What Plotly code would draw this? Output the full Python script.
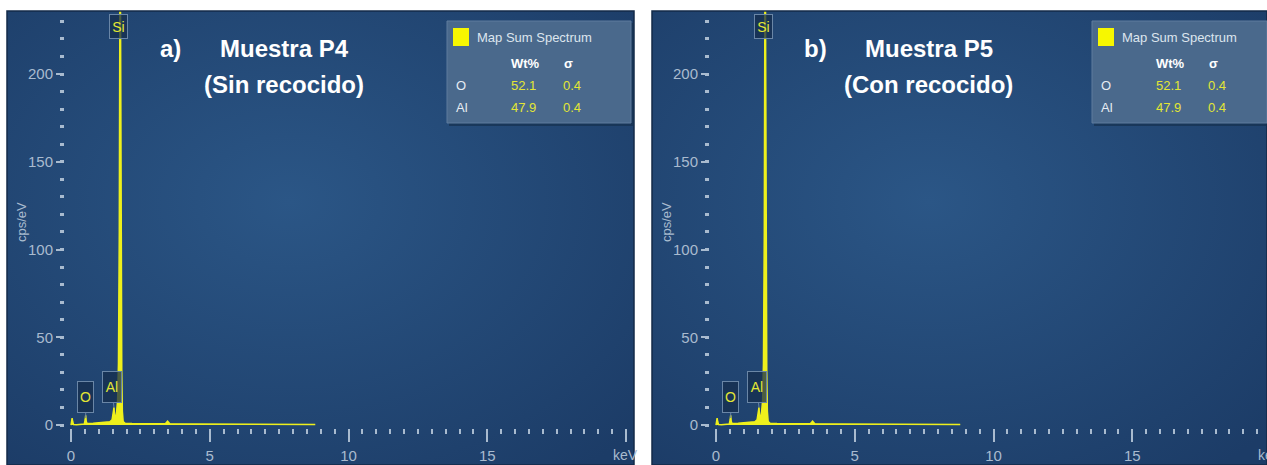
import base64
import plotly.graph_objects as go

W, H = 1267, 465

# ---------------- data ----------------
energy_kev = [0.00, 0.02, 0.04, 0.06, 0.09, 0.20, 0.35, 0.48, 0.51, 0.53, 0.55, 0.58,
              0.80, 1.00, 1.20, 1.40, 1.48, 1.52, 1.55, 1.57, 1.60, 1.64, 1.68, 1.71,
              1.74, 1.77, 1.80, 1.83, 1.85, 1.88, 1.95, 2.20, 3.00, 3.40, 3.48, 3.56,
              4.50, 6.00, 7.50, 8.80]
counts_p4 = [0.0, 2.0, 4.0, 2.0, 0.3, 0.2, 0.3, 0.6, 3.0, 5.5, 2.0, 0.8,
             1.0, 1.2, 1.3, 1.8, 3.0, 7.0, 10.0, 5.0, 4.0, 7.0, 14.0, 35.0,
             110.0, 300.0, 110.0, 30.0, 8.0, 2.0, 1.0, 0.8, 0.7, 0.7, 2.2, 0.7,
             0.6, 0.5, 0.4, 0.3]
counts_p5 = [0.0, 2.0, 4.0, 2.0, 0.3, 0.2, 0.3, 0.6, 3.0, 5.5, 2.0, 0.8,
             1.0, 1.2, 1.3, 1.8, 3.0, 7.0, 10.0, 5.0, 4.0, 7.0, 14.0, 35.0,
             110.0, 300.0, 110.0, 30.0, 8.0, 2.0, 1.0, 0.8, 0.7, 0.7, 2.2, 0.7,
             0.6, 0.5, 0.4, 0.3]

peak_names = ["O", "Al", "Si"]
peak_energy = [0.53, 1.55, 1.77]
peak_height = [4.0, 10.0, 227.0]

table_elements = ["O", "Al"]
table_wt = ["52.1", "47.9"]
table_sigma = ["0.4", "0.4"]

x_major_ticks = [0, 5, 10, 15, 20]
x_major_text = ["0", "5", "10", "15", ""]
y_major_ticks = [0, 50, 100, 150, 200]
y_major_text = ["0", "50", "100", "150", "200"]

panel_tags = ["a)", "b)"]
panel_title1 = ["Muestra P4", "Muestra P5"]
panel_title2 = ["(Sin recocido)", "(Con recocido)"]
panel_counts = [counts_p4, counts_p5]

# ---------------- styling ----------------
FONT = "Liberation Sans, Arial, sans-serif"
YEL = "#eef01c"
TXT_YEL = "#e3e634"
AX = "#a9bbcf"
KEV_PX = 27.75


def px(x):
    return x / W


def py(y):
    return 1 - y / H


def grad_uri():
    svg = ("<svg xmlns='http://www.w3.org/2000/svg' width='100' height='100' "
           "viewBox='0 0 100 100' preserveAspectRatio='none'><defs>"
           "<radialGradient id='g' cx='45%' cy='42%' r='75%'>"
           "<stop offset='0%' stop-color='#2b5686'/>"
           "<stop offset='100%' stop-color='#1c3c67'/></radialGradient></defs>"
           "<rect x='0' y='0' width='100' height='100' fill='url(#g)'/></svg>")
    return "data:image/svg+xml;base64," + base64.b64encode(svg.encode()).decode()


def txt(text, x, y, font, xanchor="center", yanchor="middle", **kw):
    d = dict(text=text, xref="paper", yref="paper", x=px(x), y=py(y),
             xanchor=xanchor, yanchor=yanchor, showarrow=False, font=font)
    d.update(kw)
    return d


fig = go.Figure()
GRAD = grad_uri()
images, shapes, annots = [], [], []
layout_axes = {}

for i in range(2):
    dx = 645 * i
    sfx = "" if i == 0 else "2"
    ov = str(3 + i)
    xname, yname = "x" + sfx, "y" + sfx
    left = 65 + dx
    right = min(632 + dx, W)
    zero = 71 + dx
    xr = [(left - zero) / KEV_PX, (right - zero) / KEV_PX]
    yr = [-1.7, 235.9]
    dom_x = [px(left), px(right)]
    dom_y = [py(428), py(11)]

    fig.add_trace(go.Scatter(
        x=energy_kev, y=panel_counts[i], xaxis=xname, yaxis=yname,
        mode="lines", line=dict(color=YEL, width=1.5),
        fill="tozeroy", fillcolor=YEL, showlegend=False, hoverinfo="skip"))

    tickfont = dict(family=FONT, size=15, color=AX)
    layout_axes["xaxis" + sfx] = dict(
        domain=dom_x, range=xr, anchor=yname, showgrid=False, zeroline=False,
        showline=False, tickmode="array", tickvals=x_major_ticks, ticktext=x_major_text,
        ticks="outside", ticklen=13, tickwidth=2, tickcolor=AX, tickfont=tickfont,
        ticklabelstandoff=1, automargin=False,
        minor=dict(dtick=0.5, tick0=0, ticks="outside", ticklen=5, tickwidth=2,
                   tickcolor=AX, showgrid=False),
        fixedrange=True)
    layout_axes["xaxis" + ov] = dict(
        overlaying=xname, anchor=yname, range=xr, showgrid=False, zeroline=False,
        showline=False, dtick=1, tick0=0, ticks="outside", ticklen=10, tickwidth=2,
        tickcolor=AX, showticklabels=False, fixedrange=True, automargin=False)
    layout_axes["yaxis" + sfx] = dict(
        domain=dom_y, range=yr, anchor=xname, showgrid=False, zeroline=False,
        showline=False, tickmode="array", tickvals=y_major_ticks, ticktext=y_major_text,
        ticks="outside", ticklen=8, tickwidth=2, tickcolor=AX, tickfont=tickfont,
        automargin=False,
        minor=dict(dtick=10, tick0=0, ticks="outside", ticklen=4, tickwidth=3,
                   tickcolor=AX, showgrid=False),
        fixedrange=True)

    # background panel
    bx0, bx1 = 7 + dx, min(634 + dx, W)
    images.append(dict(source=GRAD, xref="paper", yref="paper", x=px(bx0), y=py(11),
                       sizex=px(bx1) - px(bx0), sizey=py(11) - py(H),
                       xanchor="left", yanchor="top", sizing="stretch", layer="below"))
    shapes.append(dict(type="rect", xref="paper", yref="paper", x0=px(bx0), x1=px(bx1),
                       y0=py(H), y1=py(11), line=dict(color="#132a48", width=1.5)))

    # y axis title and keV label
    annots.append(txt("cps/eV", 21 + dx, 222, dict(family=FONT, size=13, color=AX),
                      textangle=-90))
    annots.append(txt("keV", 611 + dx, 455, dict(family=FONT, size=14, color=AX),
                      xanchor="left"))

    # titles
    tfont = dict(family=FONT, size=24, color="white")
    annots.append(txt("<b>" + panel_tags[i] + "</b>", 170 + dx, 49, tfont))
    annots.append(txt("<b>" + panel_title1[i] + "</b>", 284 + dx, 49, tfont))
    annots.append(txt("<b>" + panel_title2[i] + "</b>", 284 + dx, 84, tfont))

    # legend / results box
    lx0, lx1 = 447 + dx, 631 + dx
    shapes.append(dict(type="rect", xref="paper", yref="paper", x0=px(lx0 + 2),
                       x1=px(min(lx1 + 3, W)), y0=py(126), y1=py(23),
                       fillcolor="#16304f", line=dict(width=0), opacity=0.7))
    shapes.append(dict(type="rect", xref="paper", yref="paper", x0=px(lx0),
                       x1=px(min(lx1, W)), y0=py(123), y1=py(21),
                       fillcolor="#4a698c", line=dict(color="#5f7d9e", width=1)))
    shapes.append(dict(type="rect", xref="paper", yref="paper", x0=px(453 + dx),
                       x1=px(469 + dx), y0=py(46), y1=py(28),
                       fillcolor="#f7f700", line=dict(width=0)))
    annots.append(txt("Map Sum Spectrum", 475 + dx, 37,
                      dict(family=FONT, size=13, color="#dde5ee"), xanchor="left"))
    hfont = dict(family=FONT, size=13, color="white")
    annots.append(txt("<b>Wt%</b>", 525 + dx, 63, hfont))
    annots.append(txt("<b>σ</b>", 568 + dx, 63, hfont))
    for r, (el, wt, sg) in enumerate(zip(table_elements, table_wt, table_sigma)):
        yy = 85 + 22 * r
        annots.append(txt(el, 454 + dx, yy, dict(family=FONT, size=13, color="#e6ecf3"),
                          xanchor="left"))
        annots.append(txt(wt, 523 + dx, yy, dict(family=FONT, size=13, color=TXT_YEL)))
        annots.append(txt(sg, 572 + dx, yy, dict(family=FONT, size=13, color=TXT_YEL)))

    # peak labels
    for name, e, h in zip(peak_names, peak_energy, peak_height):
        common = dict(text=name, xref=xname, yref=yname, x=e, y=h,
                      font=dict(family=FONT, size=14, color=TXT_YEL),
                      bgcolor="rgba(22,45,78,0.75)", bordercolor="#6a86a6",
                      borderwidth=1, borderpad=2, xanchor="center", yanchor="middle")
        if name == "Si":
            common.update(showarrow=False, xshift=-2, width=13, height=19)
        elif name == "O":
            common.update(showarrow=True, arrowhead=0, arrowcolor="#6a86a6",
                          arrowwidth=1, ax=0, ay=-21, width=11, height=26)
        else:
            common.update(showarrow=True, arrowhead=0, arrowcolor="#6a86a6",
                          arrowwidth=1, ax=-2, ay=-20, width=14, height=26)
        annots.append(common)

fig.update_layout(
    width=W, height=H, margin=dict(l=0, r=0, t=0, b=0, autoexpand=False),
    paper_bgcolor="white", plot_bgcolor="rgba(0,0,0,0)",
    showlegend=False, images=images, shapes=shapes, annotations=annots,
    **layout_axes)

fig.write_html("out.html", config={"displayModeBar": False},
               post_script="document.body.style.margin='0';"
                           "document.body.style.padding='0';"
                           "document.body.style.overflow='hidden';")
